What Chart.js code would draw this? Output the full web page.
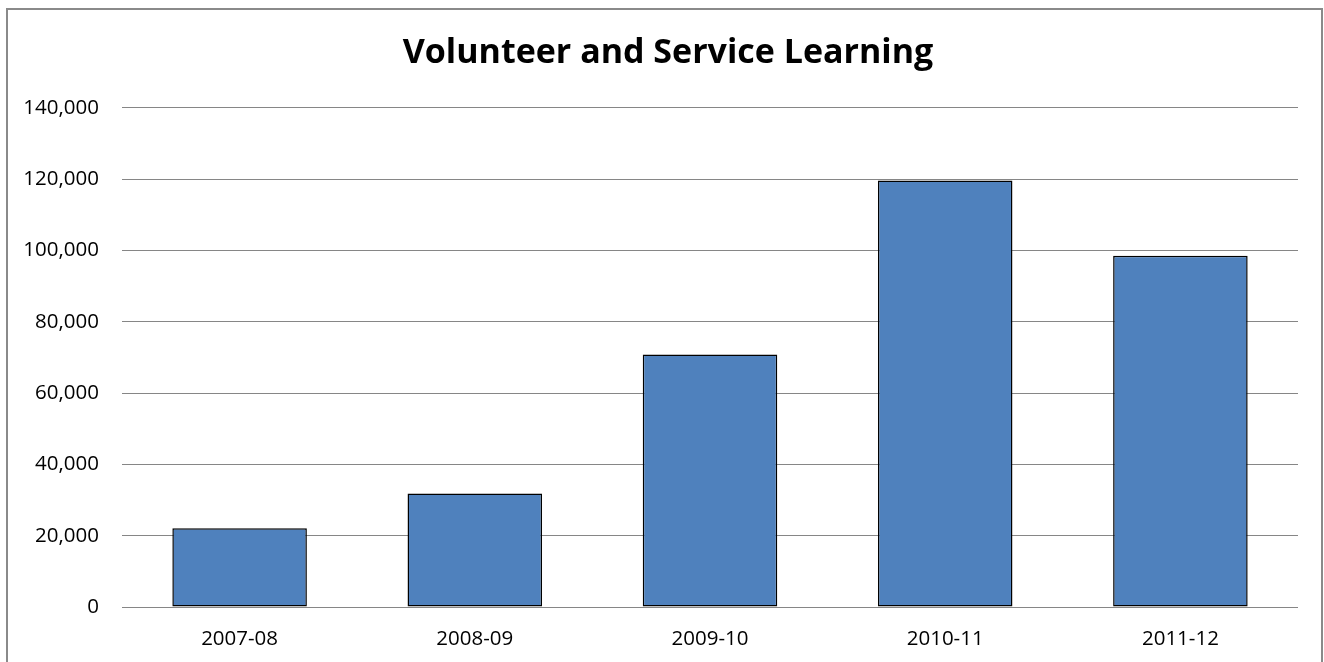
<!DOCTYPE html>
<html>
<head>
<meta charset="utf-8">
<title>Volunteer and Service Learning</title>
<script src="https://cdn.jsdelivr.net/npm/chart.js@4.4.0/dist/chart.umd.min.js"></script>
<style>
  html, body { margin: 0; padding: 0; background: #ffffff; overflow: hidden; }
  #frame {
    position: absolute; left: 6px; top: 8px;
    width: 1313px; height: 700px;
    border: 2px solid #8a8a8a;
  }
  #wrap { position: absolute; left: 0; top: 0; width: 1324px; height: 662px; }
</style>
</head>
<body>
<div id="frame"></div>
<div id="wrap"><canvas id="chart"></canvas></div>
<script>
// dados do grafico
const years = ["2007-08", "2008-09", "2009-10", "2010-11", "2011-12"];
const hours = [22100, 31850, 70800, 119600, 98500];
const yTicks = [0, 20000, 40000, 60000, 80000, 100000, 120000, 140000];

const gridGray = "#868686";
const tickFont = { family: "'Open Sans', sans-serif", size: 20.5 };

// desloca o titulo para a direita (no original ele nao fica centrado no canvas)
const shiftTitle = {
    id: "shiftTitle",
    afterLayout(chart) {
        chart.titleBlock.left += 19;
        chart.titleBlock.right += 19;
    },
};

const ctx = document.getElementById("chart").getContext("2d");
const chart = new Chart(ctx, {
    type: "bar",
    data: {
        labels: years,
        datasets: [
            {
                label: "Volunteer and Service Learning",
                data: hours,
                backgroundColor: "#4f81bd",
                borderColor: "#000000",
                borderWidth: 1.5,
                borderSkipped: false,
                barPercentage: 0.572,
                categoryPercentage: 1,
            },
        ],
    },
    options: {
        responsive: true,
        maintainAspectRatio: false,
        animation: false,
        layout: {
            padding: { left: 0, right: 26, top: 0, bottom: 0 },
        },
        plugins: {
            legend: { display: false },
            tooltip: { enabled: false },
            title: {
                display: true,
                text: "Volunteer and Service Learning",
                color: "#000000",
                font: { family: "'Open Sans', sans-serif", size: 34, weight: "bold" },
                padding: { top: 33, bottom: 34 },
            },
        },
        scales: {
            x: {
                afterFit: (scale) => {
                    scale.height = 55;
                },
                grid: { display: false, drawTicks: false },
                border: { display: false },
                ticks: {
                    color: "#000000",
                    padding: 20,
                    font: tickFont,
                },
            },
            y: {
                min: 0,
                max: 140000,
                afterBuildTicks: (scale) => {
                    scale.ticks = yTicks.map((v) => ({ value: v }));
                },
                afterFit: (scale) => {
                    scale.width = 122; // area do grafico comeca em x=122
                },
                grid: {
                    color: gridGray,
                    lineWidth: 1,
                    drawTicks: false,
                },
                border: { display: false },
                ticks: {
                    color: "#000000",
                    padding: 23,
                    font: tickFont,
                    callback: (v) => v.toLocaleString("en-US"),
                },
            },
        },
    },
    plugins: [shiftTitle],
});
</script>
</body>
</html>
